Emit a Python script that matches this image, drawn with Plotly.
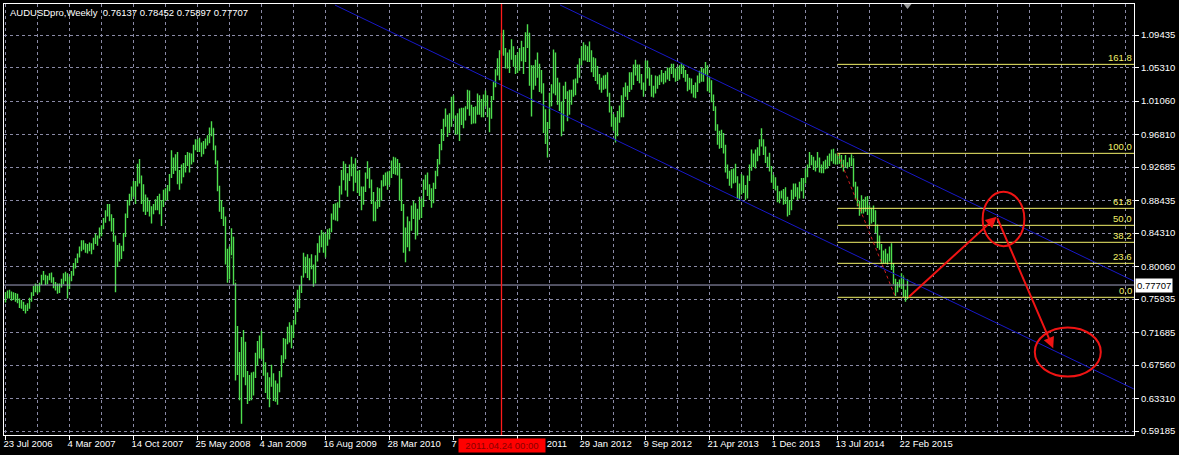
import pandas as pd
import plotly.graph_objects as go

# ---------------- data ----------------
symbol_title = "AUDUSDpro,Weekly"
last_ohlc = [0.76137, 0.78452, 0.75897, 0.77707]
first_week = "2006-07-23"
first_open_k = 762

# weekly highs / lows / closes in thousandths (0.001 units), one value per week
high_k = [
    # 2006
    768,770,771,769,768,767,766,760,758,756,752,754,761,768,776,779,778,780,790,795,790,789,792,793,
    # 2007
    787,781,779,779,785,792,794,792,788,795, 805,811,817,826,834,834,830,829,831,830,
    837,842,840,850,853,862,872,880,880,867, 862,840,828,830,827,843,868,885,893,902,
    909,909,931,937,916,905,892,888,884,877, 880,886,
    # 2008
    890,893,885,898,900,904,918,948,939,943, 946,923,930,932,942,946,945,944,955,962,
    962,964,958,960,963,967,977,985,976,954, 935,903,885,876,864,823,826,849,838,780,
    725,692,711,720,705,668,663,666,667,691, 706,713,
    # 2009
    719,697,679,666,660,676,665,656,652,668, 688,710,709,724,730,726,733,760,771,777,
    789,818,813,816,811,816,803,815,830,840, 847,844,842,848,849,868,880,881,882,903,
    923,934,931,919,930,940,931,938,922,923, 902,902,
    # 2010
    920,934,926,911,895,883,901,900,910,917, 920,921,922,935,940,939,937,932,912,880,
    850,864,858,878,884,881,874,889,887,911, 917,920,905,900,907,922,937,956,975,988,
    1001,993,995,1016,1018,992,995,1001,1002,1002, 1004,1025,
    # 2011
    1024,1006,1003,1004,1020,1018,1013,1019,1024,1018, 1002,1017,1035,1051,1065,1075,1097,1101,1078,1072,
    1076,1089,1080,1069,1072,1078,1087,1079,1098,1108, 1097,1056,1056,1063,1072,1058,1050,1033,1000,984,
    1021,1032,1076,1072,1040,1034,1010,1030,1035,1023, 1025,1025,
    # 2012
    1038,1039,1057,1065,1080,1085,1082,1080,1086,1075, 1066,1065,1055,1045,1040,1043,1044,1047,1021,1004,
    994,990,998,1005,1018,1028,1034,1030,1047,1047, 1057,1063,1057,1057,1045,1034,1062,1062,1053,1044,
    1030,1043,1042,1044,1050,1046,1049,1053,1053,1058, 1058,1052,1054,
    # 2013
    1056,1059,1056,1050,1045,1040,1039,1031,1034,1043, 1049,1053,1052,1060,1056,1040,1037,1019,1004,981,
    973,974,970,955,930,922,924,925,931,915, 906,918,916,904,916,930,949,944,949,952,
    962,976,962,953,940,945,928,917,914,903, 896,897,
    # 2014
    899,901,889,885,898,906,906,901,908,913, 913,925,930,946,942,940,935,946,939,930,
    934,936,941,944,949,950,944,945,944,942, 936,942,933,939,943,938,908,902,884,891,
    886,889,890,878,875,878,872,854,840,829, 821,823,
    # 2015
    817,826,830,805,785,781,784,792,788,771,785,
]
low_k = [
    # 2006
    755,760,760,757,758,756,754,748,747,744,741,744,747,756,763,768,766,768,777,783,777,778,783,780,
    # 2007
    773,770,766,767,774,778,782,760,772,782, 789,798,805,812,820,822,818,817,820,816,
    822,829,827,836,839,848,856,864,858,845, 832,768,800,807,810,820,838,862,878,884,
    889,880,902,906,880,870,866,870,864,855, 867,872,
    # 2008
    872,867,852,876,884,885,896,913,918,922, 905,898,906,914,920,928,920,930,933,948,
    946,946,940,943,950,954,957,966,948,930, 896,870,861,852,803,780,784,815,777,656,
    663,631,601,660,650,626,630,631,637,659, 675,684,
    # 2009
    683,662,640,632,622,648,630,629,625,641, 660,678,683,702,704,697,710,727,743,748,
    767,787,792,786,783,797,775,779,807,818, 825,818,812,827,835,844,860,859,858,875,
    892,910,897,889,909,915,896,907,894,890, 872,879,
    # 2010
    895,912,900,880,858,858,874,876,884,902, 903,898,904,913,918,917,916,884,871,818,
    806,825,820,846,861,835,840,860,862,876, 898,890,885,875,881,899,915,930,948,960,
    978,965,970,978,988,968,968,960,980,976, 986,1000,
    # 2011
    992,981,982,982,993,993,990,990,1004,990, 971,988,1012,1028,1043,1037,1070,1068,1052,1052,
    1046,1063,1054,1045,1046,1049,1061,1045,1060,1078, 1030,991,1025,1030,1040,1022,1020,970,956,939,
    975,1004,1020,1018,1006,998,966,972,1013,985, 993,1006,
    # 2012
    1016,1018,1033,1040,1056,1062,1062,1060,1060,1047, 1041,1036,1032,1025,1021,1025,1026,1016,996,978,
    973,958,966,983,990,990,1016,1012,1022,1025, 1031,1043,1036,1033,1025,1016,1024,1039,1030,1016,
    1015,1020,1026,1031,1035,1032,1034,1038,1036,1045, 1040,1035,1036,
    # 2013
    1038,1045,1040,1035,1023,1025,1020,1015,1014,1022, 1033,1035,1035,1044,1023,1021,1009,998,973,955,
    950,951,944,920,912,903,900,906,907,887, 884,892,894,885,887,909,922,927,925,934,
    941,953,942,932,927,921,907,899,897,882, 881,887,
    # 2014
    879,880,864,866,872,886,889,885,887,896, 887,906,914,926,929,923,921,926,920,919,
    919,924,925,928,934,931,930,930,931,926, 921,927,925,927,928,902,886,877,865,868,
    868,870,866,853,855,857,843,824,822,804, 804,805,
    # 2015
    803,807,796,778,763,768,774,772,762,756,759,
]
close_k = [
    # 2006
    764,765,763,767,762,761,757,752,750,746,748,749,758,766,773,771,770,778,788,786,781,786,788,784,
    # 2007
    776,774,769,777,780,790,787,781,784,791, 802,808,815,823,829,826,824,826,823,826,
    834,833,838,846,849,859,868,876,862,856, 838,804,823,818,823,840,865,883,889,898,
    895,904,928,912,895,878,885,875,870,871, 876,880,
    # 2008
    884,870,880,896,891,900,915,935,928,934, 911,915,922,927,938,933,940,936,951,959,
    955,954,945,956,960,962,970,976,952,934, 902,874,873,862,812,801,812,838,783,692,
    670,641,703,667,657,639,653,641,662,680, 697,703,
    # 2009
    694,671,650,638,656,657,636,640,650,664, 682,690,704,717,708,720,729,755,748,771,
    787,805,808,790,807,801,785,812,823,835, 840,832,837,843,846,863,876,866,880,896,
    918,918,902,916,925,922,910,913,905,895, 882,898,
    # 2010
    918,923,903,885,866,876,898,893,907,912, 913,917,920,928,925,933,930,889,875,835,
    842,834,851,870,874,848,869,866,883,905, 908,895,892,886,903,919,934,951,963,983,
    987,985,981,1010,992,983,975,997,986,988, 1002,1020,
    # 2011
    997,1002,987,1001,1015,995,1008,1016,1015,998, 990,1015,1033,1048,1052,1072,1093,1072,1062,1060,
    1071,1075,1058,1050,1052,1074,1066,1068,1094,1097, 1040,1042,1047,1060,1054,1027,1030,984,977,977,
    1010,1023,1069,1036,1028,1005,973,1026,1018,995, 1015,1022,
    # 2012
    1034,1035,1053,1062,1075,1071,1076,1072,1064,1059, 1047,1046,1036,1030,1034,1033,1041,1019,1000,982,
    980,973,994,1003,1004,1023,1022,1027,1035,1043, 1055,1052,1047,1036,1031,1030,1060,1045,1038,1021,
    1026,1040,1039,1035,1037,1044,1046,1043,1051,1050, 1049,1039,1049,
    # 2013
    1055,1050,1044,1043,1033,1029,1023,1021,1027,1038, 1044,1041,1048,1051,1029,1027,1012,1003,976,963,
    957,964,950,922,914,909,919,916,910,890, 896,913,896,890,914,925,936,932,944,946,
    961,957,945,938,936,925,910,909,898,892, 888,892,
    # 2014
    893,881,873,874,894,903,898,892,904,905, 909,924,928,939,934,926,929,935,924,924,
    930,932,939,941,946,935,939,937,940,930, 929,928,929,936,940,902,900,880,875,882,
    880,877,879,859,874,862,852,827,825,813, 811,812,
    # 2015
    816,824,797,779,780,779,775,789,764,761,777,
]

price_ticks = [1.09435, 1.05310, 1.01060, 0.96810, 0.92685, 0.88435, 0.84310,
               0.80060, 0.75935, 0.71685, 0.67560, 0.63310, 0.59185]
time_labels = ["23 Jul 2006", "4 Mar 2007", "14 Oct 2007", "25 May 2008", "4 Jan 2009",
               "16 Aug 2009", "28 Mar 2010", "7 Nov 2010", "19 Jun 2011", "29 Jan 2012",
               "9 Sep 2012", "21 Apr 2013", "1 Dec 2013", "13 Jul 2014", "22 Feb 2015"]
bid_price = 0.77707

# drawings on the chart (date, price)
vline_date = "2011-04-24"
vline_label = "2011.04.24 00:00"
fib_start = ("2014-07-13", 0.9442)   # 100 level
fib_end = ("2015-02-01", 0.7615)     # 0 level
fib_levels = [0.0, 23.6, 38.2, 50.0, 61.8, 100.0, 161.8]
channel_lower = [("2009-09-18", 1.1324), ("2017-05-15", 0.6452)]
channel_upper = [("2011-11-15", 1.1324), ("2017-05-15", 0.7822)]
arrows = [(("2015-03-15", 0.7606), ("2016-01-21", 0.8638)),
          (("2016-01-21", 0.8638), ("2016-08-06", 0.6968))]
ellipses = [("2016-02-14", 0.8609, 73, 0.0345),
            ("2016-09-26", 0.6921, 115.5, 0.0311)]

# ---------------- build ----------------
high = [v / 1000 for v in high_k]
low = [v / 1000 for v in low_k]
close = [v / 1000 for v in close_k]
high[-1], low[-1], close[-1] = last_ohlc[1], last_ohlc[2], last_ohlc[3]
opens = [first_open_k / 1000] + close[:-1]
opens[-1] = last_ohlc[0]
n = len(close)
base = pd.Timestamp(first_week)
dates = [base + pd.Timedelta(weeks=i) for i in range(n)]

x_start = base - pd.Timedelta(days=0.75 * 7)
x_end = base + pd.Timedelta(days=564.25 * 7)
y_range = [0.58677, 1.13369]

GREEN = "#4ede4e"
GRID = "#8a8aa6"
WHITE = "#ffffff"
RED = "#f01414"
BLUE = "#1818c8"
YELLOW = "#f2f06a"
FONT = "Liberation Sans"

fig = go.Figure()
fig.add_trace(go.Ohlc(
    x=dates, open=opens, high=high, low=low, close=close,
    increasing=dict(line=dict(color=GREEN, width=1.4)),
    decreasing=dict(line=dict(color=GREEN, width=1.4)),
    tickwidth=0.25, hoverinfo="skip", showlegend=False,
))

label_dates = [pd.to_datetime(t, format="%d %b %Y") for t in time_labels]
grid_dates = [base + pd.Timedelta(weeks=16 * k) for k in range(0, 36)]

shapes = []
# bid line
shapes.append(dict(type="line", xref="paper", x0=0, x1=1, yref="y", y0=bid_price, y1=bid_price,
                   line=dict(color="#a2a2c4", width=1)))
# channel
for ch in (channel_lower, channel_upper):
    shapes.append(dict(type="line", xref="x", yref="y", x0=ch[0][0], y0=ch[0][1],
                       x1=ch[1][0], y1=ch[1][1], line=dict(color=BLUE, width=1)))
# vertical line
shapes.append(dict(type="line", xref="x", yref="paper", x0=vline_date, x1=vline_date, y0=0, y1=1,
                   line=dict(color="#ff1a1a", width=1.3)))
# fibonacci
p100, p0 = fib_start[1], fib_end[1]
for lv in fib_levels:
    p = p0 + (p100 - p0) * lv / 100
    shapes.append(dict(type="line", xref="x", yref="y", x0=fib_start[0], x1=x_end, y0=p, y1=p,
                       line=dict(color=YELLOW, width=1)))
shapes.append(dict(type="line", xref="x", yref="y", x0=fib_start[0], y0=p100, x1=fib_end[0], y1=p0,
                   line=dict(color="#d02020", width=1, dash="dot")))
# ellipses
for cx, cy, rdays, rp in ellipses:
    c = pd.Timestamp(cx)
    shapes.append(dict(type="circle", xref="x", yref="y",
                       x0=c - pd.Timedelta(days=rdays), x1=c + pd.Timedelta(days=rdays),
                       y0=cy - rp, y1=cy + rp, line=dict(color=RED, width=2)))
# chart-shift marker
shapes.append(dict(type="path", xref="x", yref="paper", xsizemode="pixel", ysizemode="pixel",
                   xanchor=dates[-1], yanchor=1, path="M -4 0 L 4 0 L 0 -5 Z",
                   fillcolor="#9a9a9a", line=dict(width=0)))

annotations = []
annotations.append(dict(xref="paper", yref="paper", x=0, y=1, xanchor="left", yanchor="top",
                        xshift=4, yshift=-1, showarrow=False,
                        text=symbol_title + "\u00a0\u00a0" + " ".join(f"{v:.5f}" for v in last_ohlc),
                        font=dict(family=FONT, size=9.5, color=WHITE)))
for lv in fib_levels:
    p = p0 + (p100 - p0) * lv / 100
    annotations.append(dict(xref="paper", yref="y", x=1, y=p, xanchor="right", yanchor="bottom",
                            xshift=-1, yshift=0, showarrow=False, text=f"{lv:.1f}",
                            font=dict(family=FONT, size=9.5, color=YELLOW), borderpad=0))
for (tail, head) in arrows:
    annotations.append(dict(xref="x", yref="y", axref="x", ayref="y",
                            x=head[0], y=head[1], ax=tail[0], ay=tail[1], text="",
                            showarrow=True, arrowhead=2, arrowsize=1.1, arrowwidth=2,
                            arrowcolor=RED, standoff=0, startstandoff=0))
annotations.append(dict(xref="paper", yref="y", x=1, y=bid_price, xanchor="left",
                        yanchor="middle", xshift=1, showarrow=False, text=f"{bid_price:.5f}",
                        bgcolor=WHITE, font=dict(family=FONT, size=9.5, color="#000000"),
                        borderpad=1))
annotations.append(dict(xref="x", yref="paper", x=vline_date, y=0, xanchor="center", yanchor="top",
                        yshift=-3, showarrow=False, text=vline_label, bgcolor="#ff0000",
                        width=84, align="center",
                        font=dict(family=FONT, size=9.5, color="#8a0000"), borderpad=1))

fig.update_layout(
    width=1179, height=455,
    margin=dict(l=4, r=45, t=4, b=20, autoexpand=False),
    paper_bgcolor="#000000", plot_bgcolor="#000000",
    font=dict(family=FONT, size=9.5, color=WHITE),
    showlegend=False,
    shapes=shapes, annotations=annotations,
    xaxis=dict(
        type="date", range=[x_start, x_end], rangeslider=dict(visible=False),
        tickmode="array", tickvals=label_dates, ticktext=time_labels,
        ticks="outside", ticklen=4, tickcolor=WHITE, ticklabelposition="outside right",
        ticklabelshift=-3,
        tickfont=dict(family=FONT, size=9.5, color=WHITE),
        showgrid=False, zeroline=False,
        showline=True, linecolor=WHITE, linewidth=1, mirror=True,
        minor=dict(tickmode="array", tickvals=grid_dates, showgrid=True, gridcolor=GRID,
                   griddash="3px,3px", gridwidth=1, ticks=""),
        fixedrange=True,
    ),
    yaxis=dict(
        range=y_range, side="right", tickmode="array", tickvals=price_ticks,
        tickformat=".5f", ticks="outside", ticklen=4, tickcolor=WHITE,
        tickfont=dict(family=FONT, size=9.5, color=WHITE),
        showgrid=True, gridcolor=GRID, griddash="3px,3px", gridwidth=1, zeroline=False,
        showline=True, linecolor=WHITE, linewidth=1, mirror=True, fixedrange=True,
    ),
)

fig.write_html(
    "out.html",
    config={"displayModeBar": False, "staticPlot": True},
    post_script="document.body.style.margin='0';document.body.style.padding='0';"
                "document.documentElement.style.overflow='hidden';document.body.style.background='#000';",
)
